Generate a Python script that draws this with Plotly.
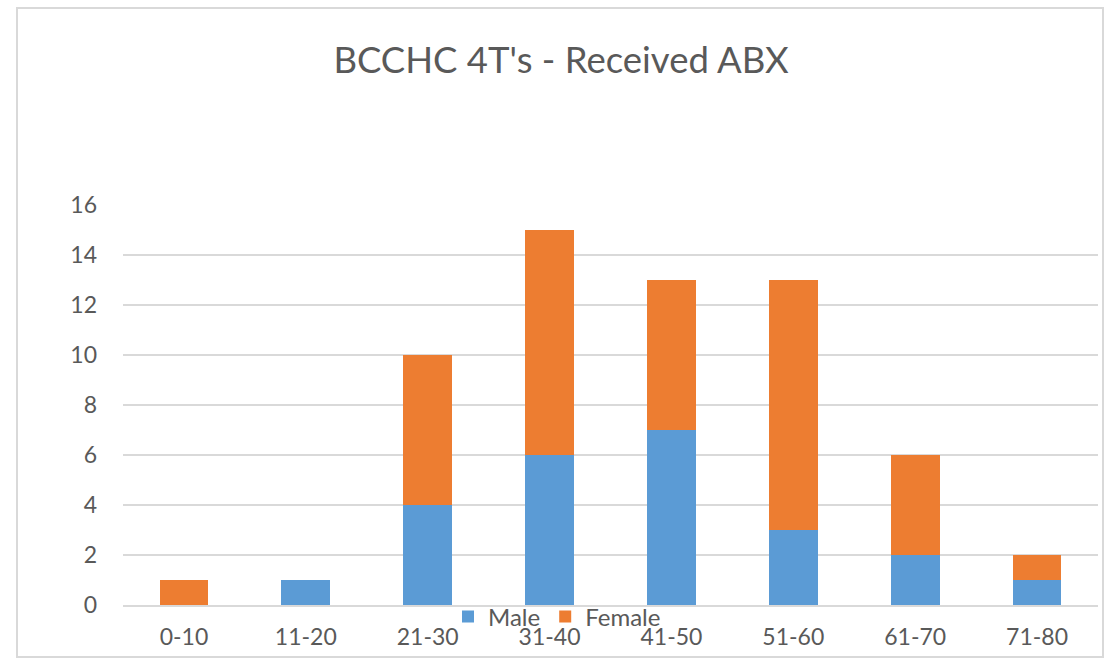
import plotly.graph_objects as go

# Age bands and counts of patients who received antibiotics
age_groups = ["0-10", "11-20", "21-30", "31-40", "41-50", "51-60", "61-70", "71-80"]
male = [0, 1, 4, 6, 7, 3, 2, 1]
female = [1, 0, 6, 9, 6, 10, 4, 1]
y_ticks = [0, 2, 4, 6, 8, 10, 12, 14, 16]

BLUE = "#5B9BD5"
ORANGE = "#ED7D31"
GREY_TEXT = "#595959"
GRID = "#D9D9D9"
FONT = "Lato, 'Open Sans', sans-serif"

fig = go.Figure()
fig.add_trace(go.Bar(name="Male", x=age_groups, y=male, marker=dict(color=BLUE, line=dict(width=0))))
fig.add_trace(go.Bar(name="Female", x=age_groups, y=female, marker=dict(color=ORANGE, line=dict(width=0))))

# plot area in pixels: left 123, right 1098, top 205, bottom 605
L, R, T, B = 123, 1098, 205, 605
W, H = 1116, 661
pw, ph = R - L, B - T


def px_x(x):
    return (x - L) / pw


def px_y(y):
    return (B - y) / ph


fig.update_layout(
    width=W,
    height=H,
    margin=dict(l=L, r=W - R, t=T, b=H - B, pad=0),
    paper_bgcolor="white",
    plot_bgcolor="white",
    barmode="stack",
    bargap=0.6,
    font=dict(family=FONT, color=GREY_TEXT, size=22),
    title=dict(
        text="BCCHC 4T's - Received ABX",
        x=561 / W,
        xref="container",
        xanchor="center",
        y=1 - 60 / H,
        yanchor="middle",
        font=dict(family=FONT, size=36.5, color=GREY_TEXT),
    ),
    showlegend=True,
    legend=dict(
        orientation="h",
        x=px_x(557),
        xanchor="center",
        y=px_y(617),
        yanchor="middle",
        font=dict(family=FONT, size=24, color=GREY_TEXT),
        bgcolor="rgba(0,0,0,0)",
        itemwidth=30,
        traceorder="normal",
    ),
    xaxis=dict(
        showgrid=False,
        showline=True,
        linecolor=GRID,
        linewidth=2,
        ticks="",
        tickfont=dict(size=23),
        ticklabelstandoff=10,
    ),
    yaxis=dict(
        range=[0, 16],
        tickvals=y_ticks,
        showgrid=True,
        gridcolor=GRID,
        gridwidth=2,
        zeroline=False,
        showline=False,
        ticks="",
        tickfont=dict(size=23),
        ticklabelstandoff=25,
    ),
    shapes=[
        dict(
            type="rect",
            xref="paper",
            yref="paper",
            x0=px_x(17),
            x1=px_x(1103),
            y0=px_y(657),
            y1=px_y(8),
            line=dict(color=GRID, width=2),
            fillcolor="rgba(0,0,0,0)",
            layer="below",
        )
    ],
)

fig.write_html("out.html")
